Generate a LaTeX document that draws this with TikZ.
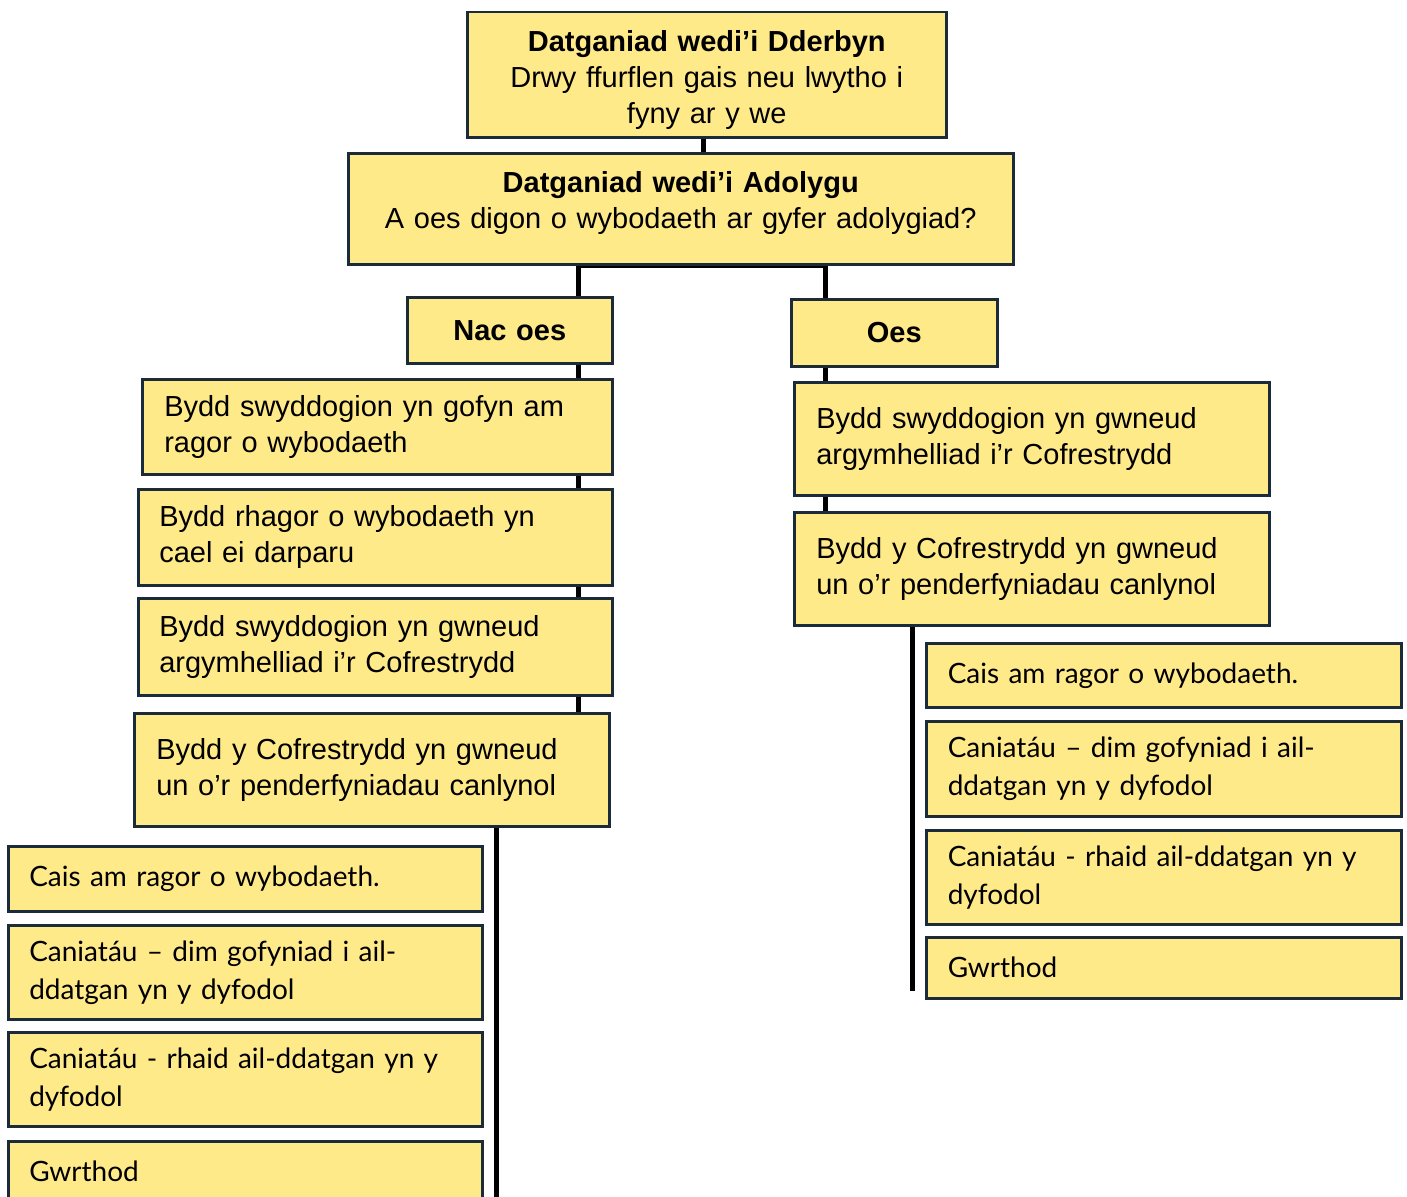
\documentclass[tikz,border=0pt]{standalone}
\usepackage{fontspec}
\setmainfont{Liberation Sans}
\newfontfamily\aptos{Lato}
\usetikzlibrary{backgrounds}
\definecolor{boxfill}{HTML}{FFEA8A}
\definecolor{boxline}{HTML}{1C2B3A}
\tikzset{
  box/.style={draw=boxline, fill=boxfill, line width=2.5pt, anchor=north west, inner sep=0pt, font=\fontsize{29}{36}\selectfont},
  leftbox/.style={box, align=left},
  decbox/.style={box, align=left, font=\aptos\fontsize{28}{38}\selectfont},
  conn/.style={draw=black, line width=5pt, line join=miter}
}
\begin{document}
\begin{tikzpicture}[x=1pt,y=-1pt]
\useasboundingbox (0,0) rectangle (1407,1196);
% top
\node[box, align=center, minimum width=479pt, minimum height=125pt, text width=470pt] (top) at (466,11)
  {\rule{0pt}{31pt}\textbf{Datganiad wedi’i Dderbyn}\\Drwy ffurflen gais neu lwytho i\\fyny ar y we};
\node[box, align=center, minimum width=665pt, minimum height=111pt, text width=650pt] (adol) at (347,152)
  {\textbf{Datganiad wedi’i Adolygu}\\A oes digon o wybodaeth ar gyfer adolygiad?\\[-18pt]\mbox{}};
\node[box, align=center, minimum width=205pt, minimum height=66pt, text width=200pt] (nac) at (406,296) {\textbf{Nac oes}};
\node[box, align=center, minimum width=206pt, minimum height=67pt, text width=200pt] (oes) at (790,298) {\textbf{Oes}};
% left column
\node[leftbox, minimum width=470pt, minimum height=95pt, text width=426pt] (l1) at (141,378)
  {Bydd swyddogion yn gofyn am\\ragor o wybodaeth};
\node[leftbox, minimum width=474pt, minimum height=96pt, text width=432pt] (l2) at (137,488)
  {Bydd rhagor o wybodaeth yn\\cael ei darparu};
\node[leftbox, minimum width=474pt, minimum height=97pt, text width=432pt] (l3) at (137,597)
  {Bydd swyddogion yn gwneud\\argymhelliad i’r Cofrestrydd};
\node[leftbox, minimum width=475pt, minimum height=113pt, text width=431pt] (l4) at (133,712)
  {Bydd y Cofrestrydd yn gwneud\\un o’r penderfyniadau canlynol};
% right column
\node[leftbox, minimum width=475pt, minimum height=113pt, text width=431pt] (r1) at (793,381)
  {Bydd swyddogion yn gwneud\\argymhelliad i’r Cofrestrydd};
\node[leftbox, minimum width=475pt, minimum height=113pt, text width=431pt] (r2) at (793,511)
  {Bydd y Cofrestrydd yn gwneud\\un o’r penderfyniadau canlynol};
% left decisions
\node[decbox, minimum width=474pt, minimum height=65pt, text width=432pt] (d1) at (7,845) {Cais am ragor o wybodaeth.};
\node[decbox, minimum width=474pt, minimum height=94pt, text width=432pt] (d2) at (7,924) {Caniatáu – dim gofyniad i ail-\\ddatgan yn y dyfodol};
\node[decbox, minimum width=474pt, minimum height=94pt, text width=432pt] (d3) at (7,1031) {Caniatáu - rhaid ail-ddatgan yn y\\dyfodol};
\node[decbox, minimum width=474pt, minimum height=61pt, text width=432pt] (d4) at (7,1140) {Gwrthod};
% right decisions
\node[decbox, minimum width=475pt, minimum height=64pt, text width=432pt] (e1) at (925,642) {Cais am ragor o wybodaeth.};
\node[decbox, minimum width=475pt, minimum height=95pt, text width=432pt] (e2) at (925,720) {Caniatáu – dim gofyniad i ail-\\ddatgan yn y dyfodol};
\node[decbox, minimum width=475pt, minimum height=94pt, text width=432pt] (e3) at (925,829) {Caniatáu - rhaid ail-ddatgan yn y\\dyfodol};
\node[decbox, minimum width=475pt, minimum height=61pt, text width=432pt] (e4) at (925,936) {Gwrthod};
% connectors
\coordinate (cx) at (703,0);
\coordinate (lx) at (578,0);
\coordinate (rx) at (825,0);
\coordinate (ldx) at (496,0);
\coordinate (rdx) at (912,0);
\coordinate (lend) at (496,1205);
\coordinate (rend) at (912,991);
\begin{pgfonlayer}{background}
\draw[conn] (top.south -| cx) -- (adol.north -| cx);
\draw[conn] (nac.north -| lx) -- (lx |- adol.south) -- (rx |- adol.south) -- (oes.north -| rx);
\draw[conn] (nac.south -| lx) -- (l4.north -| lx);
\draw[conn] (oes.south -| rx) -- (r2.north -| rx);
\draw[conn] (l4.south -| ldx) -- (lend);
\draw[conn] (r2.south -| rdx) -- (rend);
\end{pgfonlayer}
\end{tikzpicture}
\end{document}
